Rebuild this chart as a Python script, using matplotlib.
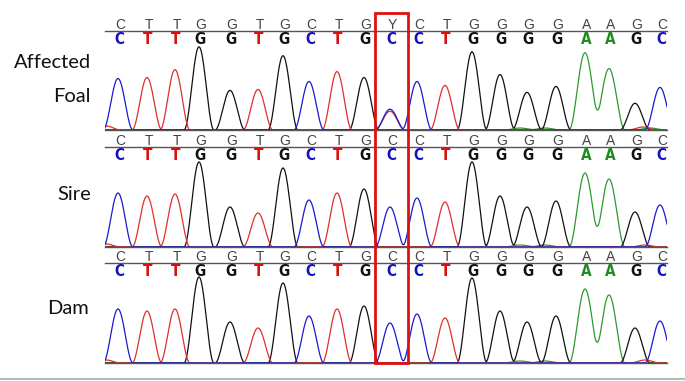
import numpy as np
import matplotlib
matplotlib.use("Agg")
import matplotlib.pyplot as plt
from matplotlib.patches import Rectangle
from matplotlib.lines import Line2D

# base calls (top row = software call, second row = bold call)
top_foal = list("CTTGGTGCTGYCTGGGGAAGC")
top_parent = list("CTTGGTGCTGCCTGGGGAAGC")
bold_calls = list("CTTGGTGCTGCCTGGGGAAGC")

# peak positions (scan units)
call_pos = [118, 147, 175, 199, 230, 258, 283, 309, 337, 364, 390,
            417, 445, 472, 500, 527, 556, 585, 609, 635, 660]

# peak heights
foal = [52, 53, 61, 84, 40, 41, 75, 49, 59, 53, 21, 49, 45, 79, 56, 38, 44, 78, 62, 27, 43]
sire = [54, 51, 53, 85, 40, 34, 79, 47, 54, 58, 40, 49, 45, 85, 51, 40, 46, 74, 68, 35, 42]
dam = [54, 52, 54, 86, 41, 35, 80, 47, 54, 57, 40, 49, 45, 85, 52, 41, 47, 74, 68, 35, 42]

# heterozygous T under the Y call of the foal
foal_extra = [(390, "T", 19)]
# small baseline bumps (pos, base, height)
foal_noise = [(106, "T", 4), (520, "A", 2), (545, "A", 2), (643, "T", 3), (650, "A", 2)]
sire_noise = [(106, "T", 3), (520, "A", 2), (545, "A", 2), (645, "T", 2)]
dam_noise = [(106, "T", 3), (520, "A", 2), (545, "A", 2), (645, "T", 3)]

colors = {"C": "#1a1ad0", "T": "#e0302a", "G": "#111111", "A": "#2e9a2e"}
bold_colors = {"C": "#1010c0", "T": "#d81010", "G": "#111111", "A": "#1f8a1f"}
half_w = {"C": 15, "T": 15, "G": 15, "A": 16}

fig = plt.figure(figsize=(6.85, 3.81), dpi=100)
W, H = 685, 381

def px_axes(top, bottom, left=105, right=667):
    return fig.add_axes([left / W, 1 - bottom / H, (right - left) / W, (bottom - top) / H])

x = np.linspace(100, 670, 3000)

def peak(p, h, w):
    d = np.clip((x - p) / w, -1, 1)
    return h * np.cos(np.pi * d / 2) ** 2

def draw_panel(ax, heights, top_row, extra, noise):
    traces = {b: np.zeros_like(x) for b in "CTGA"}
    peaks = [(p, b, h) for p, b, h in zip(call_pos, bold_calls, heights)] + extra + noise
    for p, b, h in peaks:
        traces[b] += peak(p, h, half_w[b])
    for b in "AGTC":
        ax.plot(x, traces[b], color=colors[b], lw=0.9)
    ax.set_xlim(105, 667)
    ax.set_ylim(0, 100)
    ax.set_xticks([]); ax.set_yticks([])
    for s in ["left", "right"]:
        ax.spines[s].set_visible(False)
    for s in ["top", "bottom"]:
        ax.spines[s].set_color("#555555"); ax.spines[s].set_linewidth(1.0)
    for p, t, b in zip(call_pos, top_row, bold_calls):
        ax.text(p + 2, 106, t, ha="center", va="center", fontsize=10,
                family="Liberation Sans", color="#444444", clip_on=False)
        ax.text(p + 1, 91, b, ha="center", va="center", fontsize=11, fontweight="bold",
                fontstretch="condensed", family="DejaVu Sans", color=bold_colors[b],
                clip_on=False)

ax1 = px_axes(31, 130)
ax2 = px_axes(147, 247)
ax3 = px_axes(263, 363)
draw_panel(ax1, foal, top_foal, foal_extra, foal_noise)
draw_panel(ax2, sire, top_parent, [], sire_noise)
draw_panel(ax3, dam, top_parent, [], dam_noise)

# red box around the variant position
inv = fig.transFigure.inverted()
x0, y0 = inv.transform(ax3.transData.transform((call_pos[10] - 15, 0)))
x1, y1 = inv.transform(ax1.transData.transform((call_pos[10] + 18, 118)))
fig.add_artist(Rectangle((x0, y0), x1 - x0, y1 - y0, transform=fig.transFigure,
                         fill=False, edgecolor="#dd1111", lw=2.0))

# sample labels
lab = dict(fontsize=14.5, family=["Lato", "DejaVu Sans"], ha="right", va="center", color="#111111")
fig.text(91 / W, 1 - 63 / H, "Affected", **lab)
fig.text(91 / W, 1 - 97 / H, "Foal", **lab)
fig.text(91 / W, 1 - 194 / H, "Sire", **lab)
fig.text(89 / W, 1 - 309 / H, "Dam", **lab)

fig.add_artist(Line2D([0, 1], [1 - 379 / H] * 2, transform=fig.transFigure,
                      color="#bbbbbb", lw=1.5))

fig.savefig("out.png", dpi=100)
